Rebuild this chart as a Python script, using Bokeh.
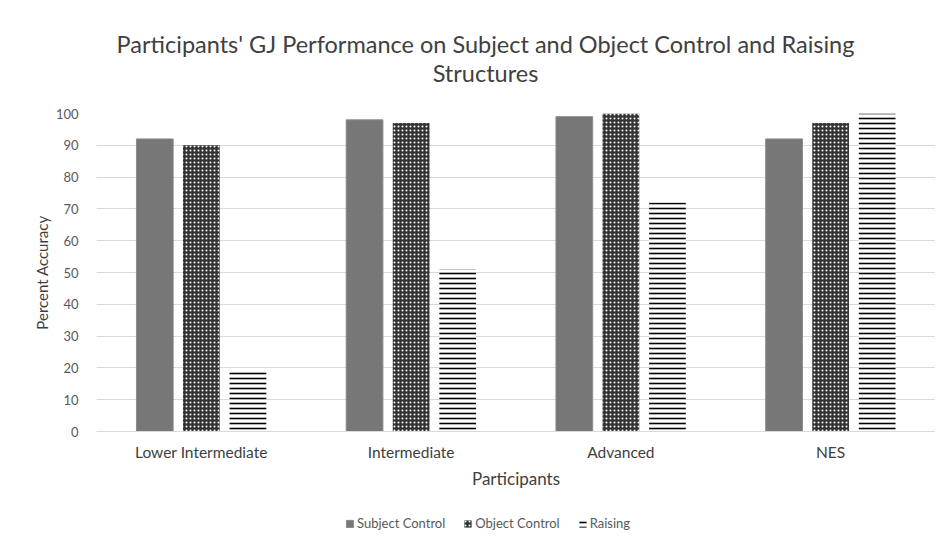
from bokeh.plotting import figure
from bokeh.layouts import column
from bokeh.models import ColumnDataSource, FactorRange, Range1d, Legend, LegendItem, SingleIntervalTicker
from bokeh.transform import dodge
from bokeh.core.properties import value
from bokeh.embed import file_html
from bokeh.resources import INLINE

categories = ["Lower Intermediate", "Intermediate", "Advanced", "NES"]
subject_control = [92, 98, 99, 92]
object_control = [90, 97, 100, 97]
raising = [19, 51, 72, 100]
series_names = ["Subject Control", "Object Control", "Raising"]
title_lines = ["Participants' GJ Performance on Subject and Object Control and Raising", "Structures"]

src = ColumnDataSource(dict(cat=categories, subj=subject_control, obj=object_control, rais=raising))

FONT = "Lato"
W = 935
LEFT = 96
STYLES = [
    dict(fill_color="#777777", line_color="#8a8a8a", line_width=1),
    dict(fill_color="#333333", line_color=None, hatch_pattern="dot",
         hatch_color="white", hatch_scale=4, hatch_weight=1.2),
    dict(fill_color="white", line_color=None, hatch_pattern="horizontal_line",
         hatch_color="black", hatch_scale=5, hatch_weight=1.6),
]

# title strip (frame is aligned with the chart frame; x in page pixels, y grows downward)
TH = 100
tf = figure(width=W, height=TH, output_backend="svg", toolbar_location=None,
            x_range=Range1d(LEFT, W), y_range=Range1d(TH, 0),
            min_border_left=0, min_border_right=0, min_border_top=0, min_border_bottom=0)
tf.axis.visible = False
tf.grid.grid_line_color = None
tf.outline_line_color = None
tsrc = ColumnDataSource(dict(text=title_lines, x=[485, 485], y=[43, 72]))
tf.text(x="x", y="y", text="text", source=tsrc, text_align="center", text_baseline="middle",
        text_font=value(FONT), text_font_size="23.5px", text_color="#404040")

# main chart
p = figure(width=W, height=405, output_backend="svg", toolbar_location=None,
           x_range=FactorRange(*categories, range_padding=0), y_range=Range1d(0, 100),
           min_border_left=LEFT, min_border_right=0, min_border_top=13, min_border_bottom=74)

w = 0.175
p.vbar(x=dodge("cat", -0.222, range=p.x_range), top="subj", width=w, source=src, **STYLES[0])
p.vbar(x=dodge("cat", 0.0, range=p.x_range), top="obj", width=w, source=src, **STYLES[1])
p.vbar(x=dodge("cat", 0.222, range=p.x_range), top="rais", width=w, source=src, **STYLES[2])

p.outline_line_color = None
p.xgrid.grid_line_color = None
p.ygrid.grid_line_color = "#d9d9d9"
p.ygrid.grid_line_width = 1

p.yaxis.ticker = SingleIntervalTicker(interval=10)
p.yaxis.axis_line_color = None
p.yaxis.major_tick_line_color = None
p.yaxis.minor_tick_line_color = None
p.yaxis.major_label_text_font = FONT
p.yaxis.major_label_text_font_size = "13px"
p.yaxis.major_label_text_color = "#595959"
p.yaxis.major_label_standoff = 12
p.yaxis.axis_label = "Percent Accuracy"
p.yaxis.axis_label_text_font = FONT
p.yaxis.axis_label_text_font_size = "15px"
p.yaxis.axis_label_text_font_style = "normal"
p.yaxis.axis_label_text_color = "#404040"
p.yaxis.axis_label_standoff = 2

p.xaxis.axis_line_color = "#d9d9d9"
p.xaxis.major_tick_line_color = None
p.xaxis.minor_tick_line_color = None
p.xaxis.major_label_text_font = FONT
p.xaxis.major_label_text_font_size = "15.5px"
p.xaxis.major_label_text_color = "#404040"
p.xaxis.major_label_standoff = 5
p.xaxis.axis_label = "Participants"
p.xaxis.axis_label_text_font = FONT
p.xaxis.axis_label_text_font_size = "17px"
p.xaxis.axis_label_text_font_style = "normal"
p.xaxis.axis_label_text_color = "#404040"
p.xaxis.axis_label_standoff = 4

# legend strip below the chart
lf = figure(width=W, height=26, output_backend="svg", toolbar_location=None,
            x_range=Range1d(0, 1), y_range=Range1d(0, 1),
            min_border_left=0, min_border_right=0, min_border_top=0, min_border_bottom=0)
lf.axis.visible = False
lf.grid.grid_line_color = None
lf.outline_line_color = None
dummy = ColumnDataSource(dict(x=[0.5], top=[0.0]))
items = []
for name, st in zip(series_names, STYLES):
    r = lf.vbar(x="x", top="top", bottom=0, width=0.0, source=dummy, visible=False, **st)
    items.append(LegendItem(label=name, renderers=[r]))
legend = Legend(items=items, orientation="horizontal", location=(249, 0),
                label_text_font=FONT, label_text_font_size="13px", label_text_color="#595959",
                glyph_width=9, glyph_height=9, spacing=18, label_standoff=3,
                border_line_color=None, background_fill_alpha=0, margin=0, padding=2)
lf.add_layout(legend, "center")

layout = column(tf, p, lf, spacing=0)
open("out.html", "w").write(file_html(layout, INLINE))
